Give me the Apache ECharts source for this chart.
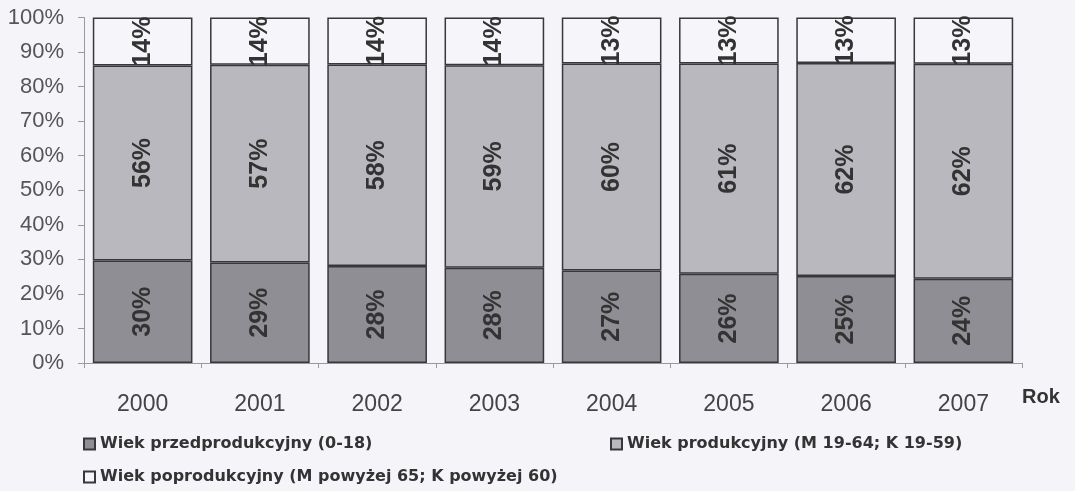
<!DOCTYPE html>
<html>
<head>
<meta charset="utf-8">
<script src="https://cdn.jsdelivr.net/npm/echarts@6/dist/echarts.min.js"></script>
<style>
  html, body { margin: 0; padding: 0; background: #f4f4f9; }
  #main { width: 1075px; height: 491px; }
</style>
</head>
<body>
<div id="main"></div>
<script>
// lata
var years = ['2000', '2001', '2002', '2003', '2004', '2005', '2006', '2007'];
var seriesNames = [
    'Wiek przedprodukcyjny (0-18)',
    'Wiek produkcyjny (M 19-64; K 19-59)',
    'Wiek poprodukcyjny (M powyżej 65; K powyżej 60)'
];
// udział w %
var preProd  = [29.7, 29.1, 28.1, 27.6, 26.8, 25.8, 25.2, 24.4];
var prod     = [56.4, 57.2, 58.3, 58.6, 59.9, 60.9, 61.6, 62.2];
var postProd = [13.9, 13.7, 13.6, 13.8, 13.3, 13.3, 13.2, 13.4];

var myChart = echarts.init(document.getElementById('main'));

var labelStyle = {
    show: true,
    position: 'inside',
    rotate: 90,
    fontFamily: '"Liberation Sans Narrow", "Liberation Sans", Arial, sans-serif',
    fontWeight: 'bold',
    fontSize: 25,
    color: '#333',
    formatter: function (p) {
        return Math.round(p.value) + '%';
    }
};

function barSeries(name, data, color) {
    return {
        name: name,
        type: 'bar',
        stack: 'total',
        barCategoryGap: '15%',
        data: data,
        itemStyle: {
            color: color,
            borderColor: '#38383c',
            borderWidth: 1.5
        },
        label: labelStyle,
        emphasis: { disabled: true }
    };
}

var legendText = {
    fontFamily: '"DejaVu Sans", sans-serif',
    fontWeight: 'bold',
    fontSize: 16,
    color: '#333'
};

var option = {
    backgroundColor: '#f4f4f9',
    animation: false,
    grid: {
        left: 84,
        right: 53,
        top: 17.5,
        bottom: 128
    },
    legend: [
        { data: [seriesNames[0]], left: 78, top: 431, icon: 'rect', itemWidth: 11, itemHeight: 11, textStyle: legendText },
        { data: [seriesNames[1]], left: 605, top: 431, icon: 'rect', itemWidth: 11, itemHeight: 11, textStyle: legendText },
        { data: [seriesNames[2]], left: 78, top: 464, icon: 'rect', itemWidth: 11, itemHeight: 11, textStyle: legendText }
    ],
    xAxis: {
        type: 'category',
        data: years,
        name: 'Rok',
        nameLocation: 'end',
        nameGap: 0,
        nameTextStyle: {
            fontFamily: '"Liberation Sans", Arial, sans-serif',
            fontWeight: 'bold',
            fontSize: 20,
            color: '#333',
            verticalAlign: 'top',
            padding: [24, 0, 0, 0]
        },
        axisLine: { lineStyle: { color: '#9a9a9e', width: 1 } },
        axisTick: { show: true, length: 5, lineStyle: { color: '#9a9a9e' } },
        axisLabel: {
            margin: 30,
            fontFamily: '"Liberation Sans Narrow", "Liberation Sans", Arial, sans-serif',
            fontSize: 23,
            color: '#444'
        }
    },
    yAxis: {
        type: 'value',
        min: 0,
        max: 100,
        interval: 10,
        axisLine: { show: true, lineStyle: { color: '#9a9a9e', width: 1 } },
        axisTick: { show: true, length: 6, lineStyle: { color: '#9a9a9e' } },
        splitLine: { show: false },
        axisLabel: {
            formatter: '{value}%',
            margin: 20,
            fontFamily: '"Liberation Sans", Arial, sans-serif',
            fontSize: 22,
            color: '#555'
        }
    },
    series: [
        barSeries(seriesNames[0], preProd, '#8e8e94'),
        barSeries(seriesNames[1], prod, '#b8b8be'),
        barSeries(seriesNames[2], postProd, '#f5f5fa')
    ]
};

myChart.setOption(option);
</script>
</body>
</html>
